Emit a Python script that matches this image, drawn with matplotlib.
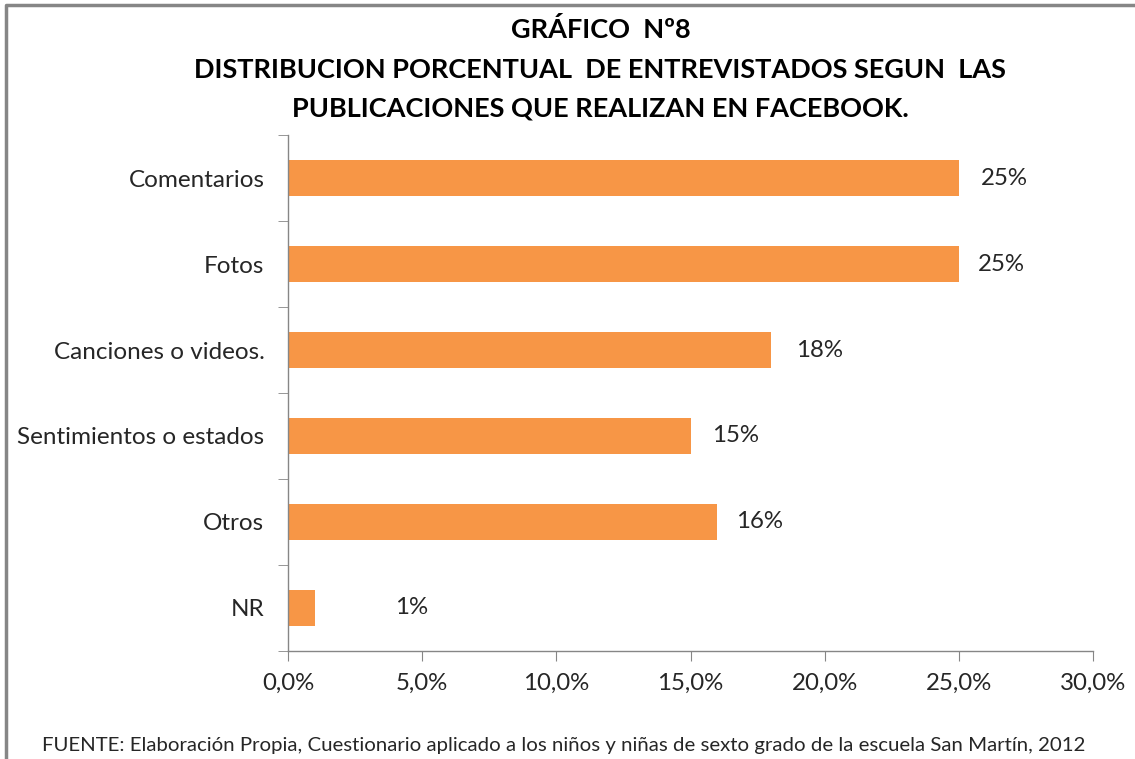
import matplotlib.pyplot as plt
from matplotlib.lines import Line2D

categorias = ["Comentarios", "Fotos", "Canciones o videos.", "Sentimientos o estados", "Otros", "NR"]
porcentajes = [25, 25, 18, 15, 16, 1]
etiquetas = ["25%", "25%", "18%", "15%", "16%", "1%"]
xticks = [0, 5, 10, 15, 20, 25, 30]
xtick_labels = ["0,0%", "5,0%", "10,0%", "15,0%", "20,0%", "25,0%", "30,0%"]

titulo = ["GRÁFICO  Nº8",
          "DISTRIBUCION PORCENTUAL  DE ENTREVISTADOS SEGUN  LAS",
          "PUBLICACIONES QUE REALIZAN EN FACEBOOK."]
fuente = ("FUENTE: Elaboración Propia, Cuestionario aplicado a los niños y niñas de sexto grado "
          "de la escuela San Martín, 2012")

plt.rcParams["font.family"] = ["Lato", "DejaVu Sans"]

W, H = 1135, 759
fig = plt.figure(figsize=(W / 100, H / 100), dpi=100)
ax = fig.add_axes([288 / W, 1 - 651 / H, (1093 - 288) / W, (651 - 135) / H])

y = list(range(len(categorias)))
ax.barh(y, porcentajes, height=0.41, color="#F79646")

# desplazamiento de las etiquetas (la de NR esta mas lejos en el original)
desplaz = [1.7, 1.6, 1.8, 1.66, 1.56, 3.6]
for yi, v, lab, d in zip(y, porcentajes, etiquetas, desplaz):
    ax.text(v + d, yi, lab, ha="center", va="center", fontsize=17.3, color="#262626")

ax.set_ylim(len(categorias) - 0.5, -0.5)
ax.set_xlim(0, 30)
ax.set_yticks(y)
ax.set_yticklabels(categorias, fontsize=17.5, color="#262626")
ax.set_yticks([i - 0.5 for i in range(len(categorias) + 1)], minor=True)
ax.tick_params(axis="y", which="major", length=0, pad=17)
ax.tick_params(axis="y", which="minor", length=7, color="#868686", direction="out")
ax.set_xticks(xticks)
ax.set_xticklabels(xtick_labels, fontsize=17.3, color="#262626")
ax.tick_params(axis="x", length=7, color="#868686", pad=9)

for s in ["top", "right"]:
    ax.spines[s].set_visible(False)
for s in ["left", "bottom"]:
    ax.spines[s].set_color("#868686")
    ax.spines[s].set_linewidth(1)

for linea, py in zip(titulo, [30, 70, 108]):
    fig.text(0.529, 1 - py / H, linea, ha="center", va="center", fontsize=19.5,
             fontweight="bold", color="black")
fig.text(42 / W, 1 - 745 / H, fuente, ha="left", va="center", fontsize=14.7, color="#262626")

# borde gris del grafico (solo arriba e izquierda visibles)
fig.add_artist(Line2D([6 / W, 6 / W, 1], [0, 1 - 5 / H, 1 - 5 / H],
                      transform=fig.transFigure, color="#868686", linewidth=2.5))

fig.savefig("out.png", dpi=100)
